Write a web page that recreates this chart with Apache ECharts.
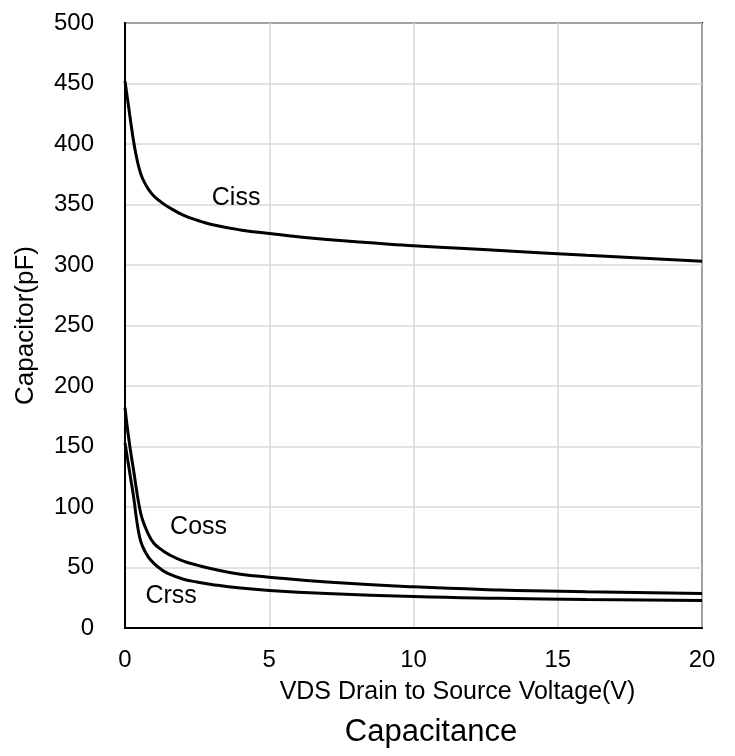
<!DOCTYPE html>
<html>
<head>
<meta charset="utf-8">
<script src="https://cdn.jsdelivr.net/npm/echarts@6/dist/echarts.min.js"></script>
<style>
html,body{margin:0;padding:0;background:#fff;}
#chart{width:735px;height:756px;}
</style>
</head>
<body>
<div id="chart"></div>
<script>
const vds  = [0, 0.1, 0.2, 0.3, 0.4, 0.5, 0.6, 0.8, 1, 1.25, 1.5, 2, 2.5, 3, 4, 5, 7, 10, 13, 16, 20];
const ciss = [452, 435, 418, 402, 389, 379, 372, 363, 357, 352, 348, 341.5, 337, 333.5, 329, 326, 321, 316, 312, 308, 303];
const coss = [182, 162, 145, 130, 114, 100, 90, 78, 70, 65, 61, 55.5, 52, 49, 44.5, 42, 38, 34, 31.5, 30, 28.5];
const crss = [153, 138, 123, 108, 90, 76, 68, 59, 53.5, 48.5, 45, 40.5, 38, 36, 33, 31, 28.5, 26, 24.5, 23.5, 22.7];
const seriesNames = ['Ciss', 'Coss', 'Crss'];
const labelPos = [[3.85, 355], [2.55, 83], [1.6, 26]];
const xTicks = [0, 5, 10, 15, 20];
const yTicks = [0, 50, 100, 150, 200, 250, 300, 350, 400, 450, 500];
const xName = 'VDS Drain to Source Voltage(V)';
const yName = 'Capacitor(pF)';
const title = 'Capacitance';

const allSeries = [ciss, coss, crss];
const FONT = 'Liberation Sans, Arial, sans-serif';
const chart = echarts.init(document.getElementById('chart'));
chart.setOption({
  animation: false,
  backgroundColor: '#fff',
  title: {
    text: title, left: 426, textAlign: 'center', top: 712,
    textStyle: {fontFamily: FONT, fontSize: 31, fontWeight: 'normal', color: '#000'}
  },
  grid: {left: 125, right: 33, top: 23, bottom: 128, show: true, borderColor: '#000', borderWidth: 2},
  xAxis: {
    type: 'value', min: xTicks[0], max: xTicks[xTicks.length - 1], interval: 5,
    name: xName, nameLocation: 'middle', nameGap: 52,
    nameTextStyle: {fontFamily: FONT, fontSize: 25, color: '#000', padding: [0, 0, 0, 88]},
    axisLine: {show: true, lineStyle: {color: '#000', width: 2}},
    axisTick: {show: false},
    axisLabel: {fontFamily: FONT, fontSize: 24, color: '#000', margin: 20},
    splitLine: {show: true, lineStyle: {color: '#d9d9d9', width: 1.5}}
  },
  yAxis: {
    type: 'value', min: yTicks[0], max: yTicks[yTicks.length - 1], interval: 50,
    name: yName, nameLocation: 'middle', nameGap: 86,
    nameTextStyle: {fontFamily: FONT, fontSize: 26, color: '#000', padding: [0, 0, 0, 0]},
    axisLine: {show: true, lineStyle: {color: '#000', width: 2}},
    axisTick: {show: false},
    axisLabel: {fontFamily: FONT, fontSize: 24, color: '#000', margin: 31},
    splitLine: {show: true, lineStyle: {color: '#d9d9d9', width: 1.5}}
  },
  series: allSeries.map((vals, i) => ({
    name: seriesNames[i],
    type: 'line',
    smooth: 0.5,
    showSymbol: false,
    data: vds.map((v, j) => [v, vals[j]]),
    lineStyle: {color: '#000', width: 3},
    markPoint: {
      symbol: 'circle', symbolSize: 0,
      label: {show: true, formatter: seriesNames[i], fontFamily: FONT, fontSize: 25, color: '#000', position: 'inside'},
      data: [{coord: labelPos[i]}]
    }
  }))
});
</script>
</body>
</html>
